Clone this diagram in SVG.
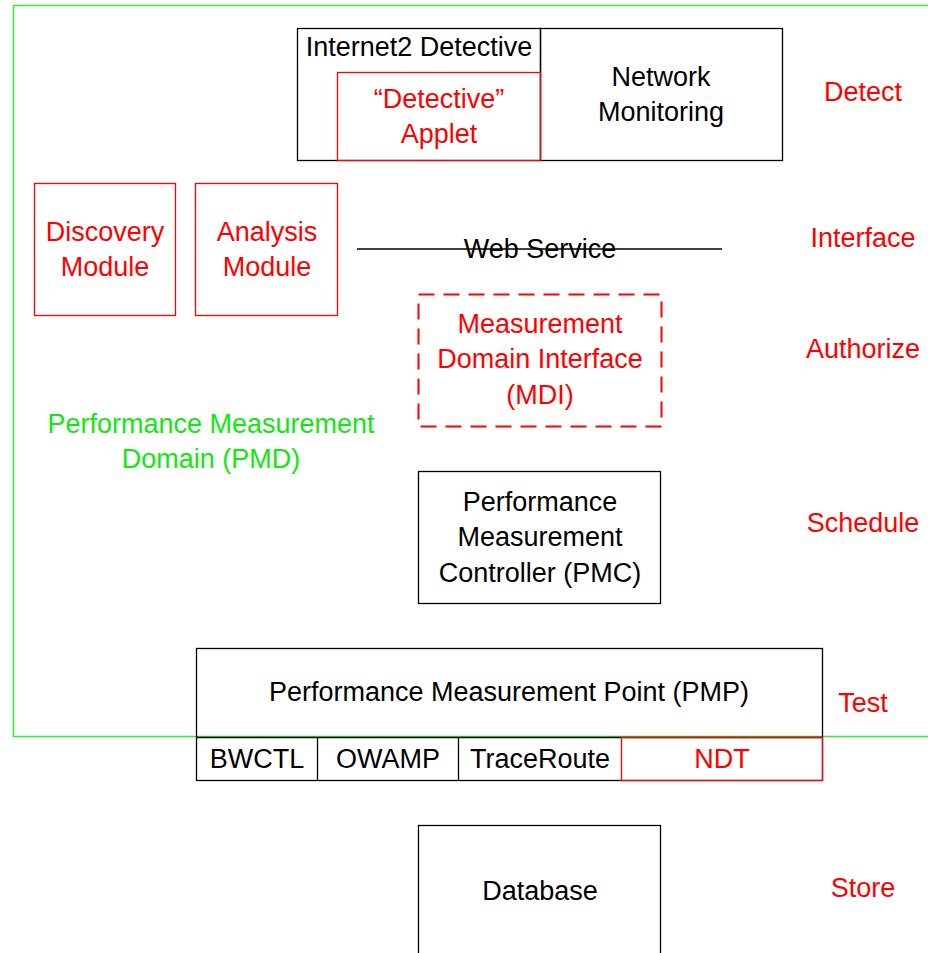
<svg xmlns="http://www.w3.org/2000/svg" width="928" height="953" viewBox="0 0 928 953">
<style>
text{font-family:"Liberation Sans",Arial,sans-serif;font-size:27px;text-anchor:middle}
.k{fill:#000}.r{fill:#f00}.g{fill:#10e810}
.bk{fill:none;stroke:#000;stroke-width:1.3}
.br{fill:none;stroke:#f00;stroke-width:1.3}
</style>
<rect width="928" height="953" fill="#fff"/>
<g id="pmd">
<rect x="13.5" y="5.5" width="930" height="731" fill="none" stroke="#2ef02e" stroke-width="1.5"/>
<text class="g" x="211" y="433">Performance Measurement</text>
<text class="g" x="211" y="468">Domain (PMD)</text>
</g>
<g id="detective">
<rect class="bk" x="297.5" y="28.5" width="243" height="132"/>
<text class="k" x="419" y="56">Internet2 Detective</text>
</g>
<g id="netmon">
<rect class="bk" x="540.5" y="28.5" width="242" height="132"/>
<text class="k" x="661" y="86">Network</text>
<text class="k" x="661" y="121">Monitoring</text>
</g>
<g id="applet">
<rect class="br" x="337.5" y="72.5" width="203" height="88"/>
<text class="r" x="439" y="108">“Detective”</text>
<text class="r" x="439" y="143">Applet</text>
</g>
<g id="discovery">
<rect class="br" x="34.5" y="183.5" width="141" height="132"/>
<text class="r" x="105" y="241">Discovery</text>
<text class="r" x="105" y="276">Module</text>
</g>
<g id="analysis">
<rect class="br" x="195.5" y="183.5" width="142" height="132"/>
<text class="r" x="267" y="241">Analysis</text>
<text class="r" x="267" y="276">Module</text>
</g>
<g id="connectors">
<line x1="357" y1="249" x2="722" y2="249" stroke="#000" stroke-width="1.3"/>
</g>
<g id="webservice">
<text class="k" x="540" y="258">Web Service</text>
</g>
<g id="mdi">
<rect x="418.5" y="294.5" width="243" height="132" fill="none" stroke="#f00" stroke-width="2" stroke-dasharray="16,9"/>
<text class="r" x="540" y="333">Measurement</text>
<text class="r" x="540" y="368">Domain Interface</text>
<text class="r" x="540" y="404">(MDI)</text>
</g>
<g id="pmc">
<rect class="bk" x="418.5" y="471.5" width="242" height="132"/>
<text class="k" x="540" y="511">Performance</text>
<text class="k" x="540" y="546">Measurement</text>
<text class="k" x="540" y="582">Controller (PMC)</text>
</g>
<g id="pmp">
<rect class="bk" x="196.5" y="648.5" width="626" height="132"/>
<text class="k" x="509" y="701">Performance Measurement Point (PMP)</text>
<line x1="196" y1="737.5" x2="822" y2="737.5" stroke="#000" stroke-width="1.3"/>
</g>
<g id="bwctl">
<line x1="317.5" y1="737" x2="317.5" y2="780" stroke="#000" stroke-width="1.3"/>
<text class="k" x="257" y="768">BWCTL</text>
</g>
<g id="owamp">
<line x1="458.5" y1="737" x2="458.5" y2="780" stroke="#000" stroke-width="1.3"/>
<text class="k" x="388" y="768">OWAMP</text>
</g>
<g id="traceroute">
<text class="k" x="540" y="768">TraceRoute</text>
</g>
<g id="ndt">
<rect class="br" x="621.5" y="737.5" width="201" height="43"/>
<text class="r" x="722" y="768">NDT</text>
</g>
<g id="database">
<rect class="bk" x="418.5" y="825.5" width="242" height="140"/>
<text class="k" x="540" y="900">Database</text>
</g>
<g id="layers">
<text class="r" x="863" y="101">Detect</text>
<text class="r" x="863" y="247">Interface</text>
<text class="r" x="863" y="358">Authorize</text>
<text class="r" x="863" y="532">Schedule</text>
<text class="r" x="863" y="712">Test</text>
<text class="r" x="863" y="897">Store</text>
</g>
</svg>
